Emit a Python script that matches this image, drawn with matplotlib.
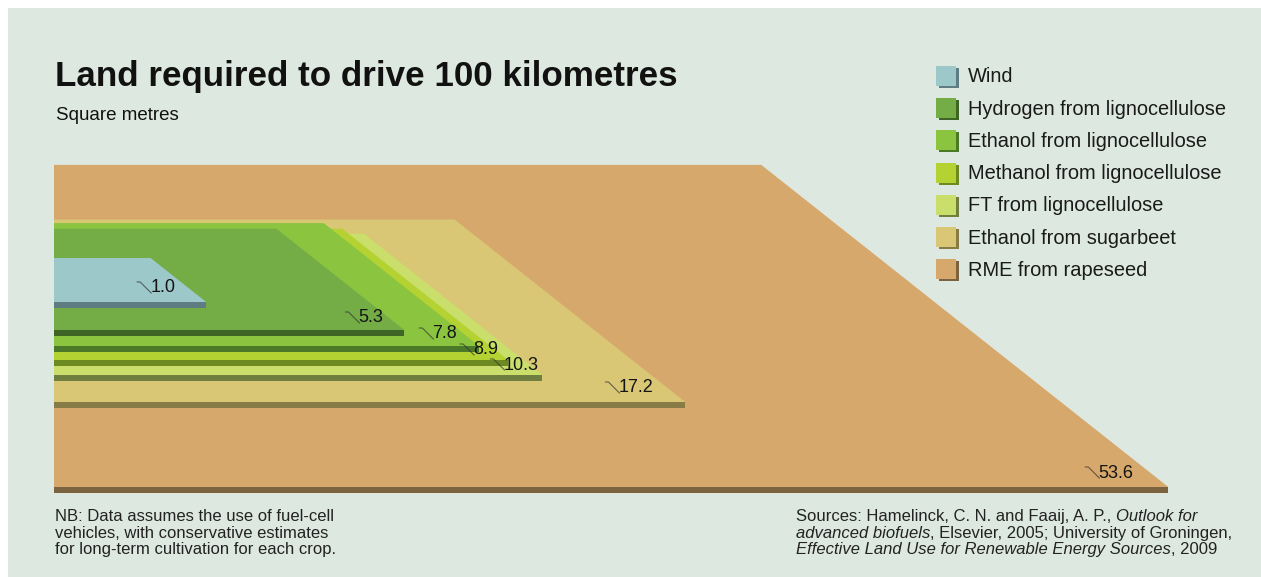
import matplotlib.pyplot as plt
from matplotlib.patches import Polygon, Rectangle

plt.rcParams['font.family'] = ['Liberation Sans', 'DejaVu Sans']

# land needed to drive 100 km, square metres
fuels = ["Wind", "Hydrogen from lignocellulose", "Ethanol from lignocellulose",
         "Methanol from lignocellulose", "FT from lignocellulose",
         "Ethanol from sugarbeet", "RME from rapeseed"]
land_m2 = [1.0, 5.3, 7.8, 8.9, 10.3, 17.2, 53.6]
value_labels = ["1.0", "5.3", "7.8", "8.9", "10.3", "17.2", "53.6"]

top_colors = ["#9cc8ca", "#74ad45", "#8bc53f", "#b4d232", "#cadf6b", "#d9c775", "#d6a86b"]
side_colors = ["#5e7c82", "#3e6426", "#4b7928", "#6d8a22", "#707f3f", "#877b46", "#7c6340"]

# layout, pixels
W, H = 1261, 577
x0 = 54
base_y = [302, 330, 346, 360, 375, 402, 487]
label_dx = [31, 21, 22, 10, 4, 32, 35]
label_dy = [14, 12, 12, 10, 10, 14, 14]
px_front = 152.2   # px per metre along the front edge
px_depth = 44.0    # px per metre of depth
px_slant = 55.6    # inward shift of the right edge per metre of side
edge_h = 6
bg = "#dde9e0"

fig = plt.figure(figsize=(W / 100, H / 100), dpi=100)
ax = fig.add_axes([0, 0, 1, 1])
ax.set_xlim(0, W)
ax.set_ylim(H, 0)
ax.axis("off")
fig.patch.set_facecolor("white")
ax.add_patch(Rectangle((8, 8), W, H, facecolor=bg, edgecolor="none", zorder=0))

renderer = fig.canvas.get_renderer()

# squares in perspective, biggest drawn first
for i in reversed(range(len(land_m2))):
    side = land_m2[i] ** 0.5
    yb = base_y[i]
    yt = yb - side * px_depth
    xr = x0 + side * px_front
    xtr = xr - side * px_slant
    ax.add_patch(Polygon([(x0, yb), (xr, yb), (xtr, yt), (x0, yt)], closed=True,
                         facecolor=top_colors[i], edgecolor="none", zorder=2 + (6 - i) * 2))
    ax.add_patch(Rectangle((x0, yb), xr - x0, edge_h, facecolor=side_colors[i],
                           edgecolor="none", zorder=2 + (6 - i) * 2))
    t = ax.text(xr - label_dx[i], yb - label_dy[i], value_labels[i], ha="right", va="center",
                fontsize=13, color="#141414", zorder=30)
    bb = t.get_window_extent(renderer=renderer)
    lx = bb.x0
    cy = yb - label_dy[i]
    ax.plot([lx - 13, lx - 10, lx + 1], [cy - 6, cy - 6, cy + 5], color="#333333",
            lw=0.8, alpha=0.7, zorder=29)

# title
ax.text(55, 86, "Land required to drive 100 kilometres", fontsize=25.2, fontweight="bold",
        color="#111111", ha="left", va="baseline")
ax.text(56, 120, "Square metres", fontsize=13.5, color="#111111", ha="left", va="baseline")

# legend
for i, name in enumerate(fuels):
    cy = 77 + i * 32.2
    ax.add_patch(Rectangle((939, cy - 9), 20, 20, facecolor=side_colors[i], edgecolor="none", zorder=5))
    ax.add_patch(Rectangle((936, cy - 11), 20, 20, facecolor=top_colors[i], edgecolor="none", zorder=6))
    ax.text(968, cy, name, fontsize=14.4, color="#1a1a1a", ha="left", va="center")

# footnotes
note_lines = ["NB: Data assumes the use of fuel-cell",
              "vehicles, with conservative estimates",
              "for long-term cultivation for each crop."]
for k, line in enumerate(note_lines):
    ax.text(55, 521 + k * 16.7, line, fontsize=12, color="#222222", ha="left", va="baseline")


def rich_line(x, y, parts):
    for txt, style in parts:
        t = ax.text(x, y, txt, fontsize=12, color="#222222", style=style,
                    ha="left", va="baseline")
        x = t.get_window_extent(renderer=renderer).x1


src_lines = [
    [("Sources: Hamelinck, C. N. and Faaij, A. P., ", "normal"), ("Outlook for", "italic")],
    [("advanced biofuels", "italic"), (", Elsevier, 2005; University of Groningen,", "normal")],
    [("Effective Land Use for Renewable Energy Sources", "italic"), (", 2009", "normal")],
]
for k, parts in enumerate(src_lines):
    rich_line(796, 521 + k * 16.7, parts)

fig.savefig("out.png", dpi=100, facecolor=fig.get_facecolor())
